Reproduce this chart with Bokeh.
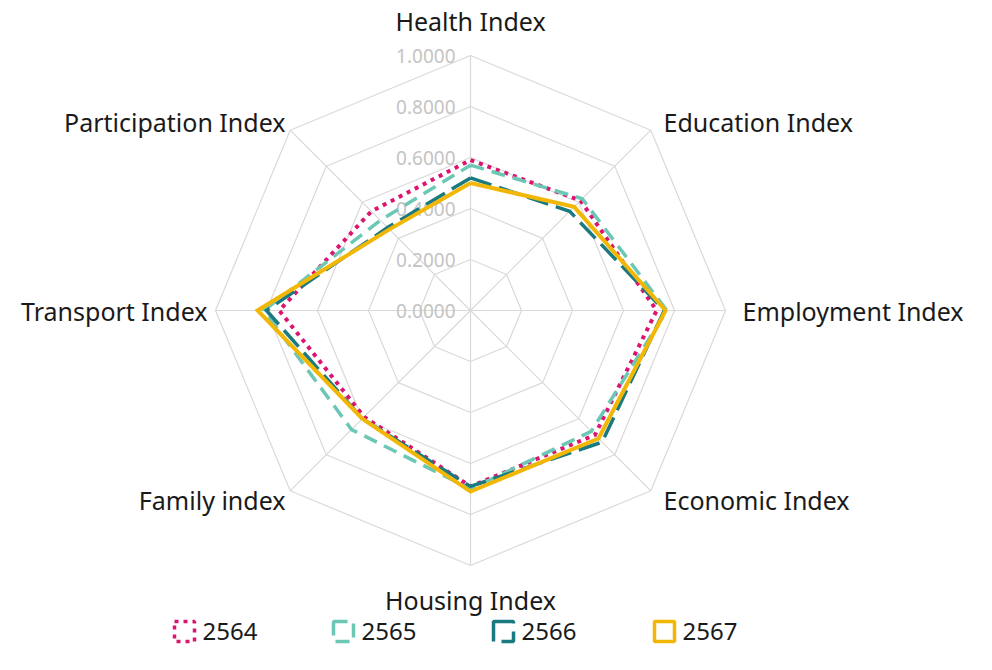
import math
from bokeh.plotting import figure
from bokeh.models import Range1d
from bokeh.core.properties import value
from bokeh.embed import file_html
from bokeh.resources import INLINE

categories = ["Health Index", "Education Index", "Employment Index", "Economic Index",
              "Housing Index", "Family index", "Transport Index", "Participation Index"]
tick_values = [0.0, 0.2, 0.4, 0.6, 0.8, 1.0]
tick_labels = ["0.0000", "0.2000", "0.4000", "0.6000", "0.8000", "1.0000"]

years = ["2564", "2565", "2566", "2567"]
v2564 = [0.59, 0.61, 0.73, 0.69, 0.69, 0.59, 0.75, 0.55]
v2565 = [0.57, 0.62, 0.77, 0.67, 0.70, 0.66, 0.81, 0.50]
v2566 = [0.52, 0.55, 0.76, 0.73, 0.69, 0.60, 0.80, 0.46]
v2567 = [0.50, 0.575, 0.765, 0.71, 0.71, 0.60, 0.835, 0.45]
series = [v2564, v2565, v2566, v2567]

colors = ["#dc1470", "#6cc7b4", "#1b7a80", "#f2b705"]
dashes = ["4 5", "14 8", "22 8", "solid"]
widths = [4, 3.5, 3.5, 4]

R = 255.0
W, H = 976, 654
cx, cy = 470, 310  # centre in figure pixels (from top-left)

p = figure(width=W, height=H, output_backend="svg", toolbar_location=None,
           x_range=Range1d(-cx / R, (W - cx) / R), y_range=Range1d(-(H - cy) / R, cy / R),
           min_border=0)
p.axis.visible = False
p.grid.visible = False
p.outline_line_color = None
p.background_fill_color = "white"

n = len(categories)
angles = [math.pi / 2 - i * 2 * math.pi / n for i in range(n)]

# grid rings
for t in tick_values[1:]:
    xs = [t * math.cos(a) for a in angles] + [t * math.cos(angles[0])]
    ys = [t * math.sin(a) for a in angles] + [t * math.sin(angles[0])]
    p.line(xs, ys, line_color="#d9d9d9", line_width=1.2)
# spokes
for a in angles:
    p.line([0, math.cos(a)], [0, math.sin(a)], line_color="#d9d9d9", line_width=1.2)

# tick labels
p.text(x=[-15 / R] * len(tick_values), y=tick_values, text=tick_labels,
       text_align="right", text_baseline="middle", text_color="#c4c4c4",
       text_font=value("Noto Sans"), text_font_size="19px")

# series
for vals, c, d, w in zip(series, colors, dashes, widths):
    xs = [v * math.cos(a) for v, a in zip(vals, angles)]
    ys = [v * math.sin(a) for v, a in zip(vals, angles)]
    xs.append(xs[0]); ys.append(ys[0])
    p.line(xs, ys, line_color=c, line_dash=d, line_width=w, line_join="miter")

# category labels
lab_x = [0, 193, 272, 193, 0, -185, -263, -185]
lab_y = [290, 189, 0, -189, -289, -189, 0, 189]
aligns = ["center", "left", "left", "left", "center", "right", "right", "right"]
for cat, lx, ly, al in zip(categories, lab_x, lab_y, aligns):
    p.text(x=[lx / R], y=[ly / R], text=[cat], text_align=al, text_baseline="middle",
           text_color="#1a1a1a", text_font=value("Noto Sans"), text_font_size="25px")

# legend
leg_y = -321 / R
leg_x = [-286, -127, 33, 194]
for lx, yr, c, d in zip(leg_x, years, colors, dashes):
    p.rect(x=[lx / R], y=[leg_y], width=20 / R, height=20 / R, fill_color=None,
           line_color=c, line_dash=d, line_width=3.5)
    p.text(x=[(lx + 18) / R], y=[leg_y], text=[yr], text_align="left", text_baseline="middle",
           text_color="#1a1a1a", text_font=value("Noto Sans"), text_font_size="24px")

open("out.html", "w").write(file_html(p, INLINE))
